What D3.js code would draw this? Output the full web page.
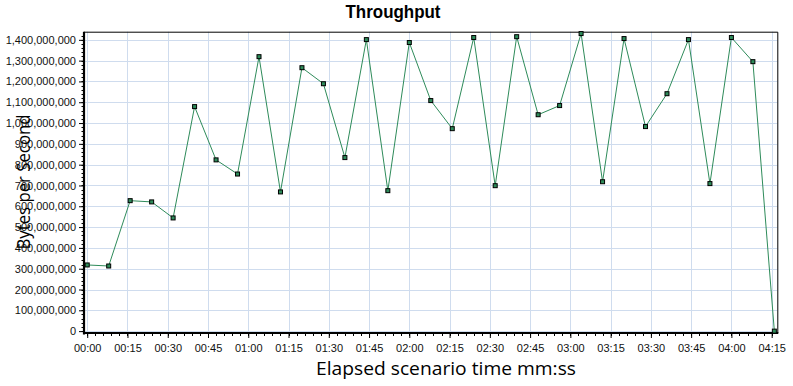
<!DOCTYPE html>
<html>
<head>
<meta charset="utf-8">
<script src="https://cdn.jsdelivr.net/npm/d3@7"></script>
<style>
  html, body { margin: 0; padding: 0; background: #fff; }
  svg { display: block; }
</style>
</head>
<body>
<svg id="chart" width="793" height="386"></svg>
<script>
// ---- data ----
const titleText = "Throughput";
const xTitle = "Elapsed scenario time mm:ss";
const yTitle = "Bytes per Second";
const elapsedSeconds = [0, 8, 16, 24, 32, 40, 48, 56, 64, 72, 80, 88, 96, 104, 112, 120,
  128, 136, 144, 152, 160, 168, 176, 184, 192, 200, 208, 216, 224, 232, 240, 248, 256];
const bytesPerSecond = [318e6, 313e6, 627e6, 621e6, 544e6, 1079e6, 823e6, 755e6, 1319e6, 669e6,
  1266e6, 1189e6, 834e6, 1401e6, 675e6, 1387e6, 1108e6, 973e6, 1411e6, 699e6,
  1415e6, 1040e6, 1084e6, 1430e6, 718e6, 1406e6, 983e6, 1141e6, 1401e6, 709e6,
  1411e6, 1295e6, 0];
const xTickSeconds = [0, 15, 30, 45, 60, 75, 90, 105, 120, 135, 150, 165, 180, 195, 210, 225, 240, 255];
const xTickLabels = ["00:00", "00:15", "00:30", "00:45", "01:00", "01:15", "01:30", "01:45", "02:00",
  "02:15", "02:30", "02:45", "03:00", "03:15", "03:30", "03:45", "04:00", "04:15"];
const yTickValues = [0, 100e6, 200e6, 300e6, 400e6, 500e6, 600e6, 700e6, 800e6, 900e6,
  1000e6, 1100e6, 1200e6, 1300e6, 1400e6];

// ---- layout ----
const L = 84, R = 777.3, T = 31.7, B = 333;
const svg = d3.select("#chart");
const x = d3.scaleLinear().domain([-1.2, 257.1]).range([L, R]);
const y = d3.scaleLinear().domain([-9e6, 1.439e9]).range([B, T]);
const lineColor = "#2e8b5a";
const gridColor = "#cfdcee";
const labelFont = "'Liberation Sans', Arial, sans-serif";
const titleFont = "'Open Sans', 'Noto Sans', sans-serif";

// grid
const g = svg.append("g");
g.selectAll("line.hg").data(yTickValues).join("line")
  .attr("x1", L).attr("x2", R)
  .attr("y1", d => Math.round(y(d)) + 0.5).attr("y2", d => Math.round(y(d)) + 0.5)
  .attr("stroke", gridColor).attr("stroke-width", 1);
g.selectAll("line.vg").data(xTickSeconds).join("line")
  .attr("y1", T).attr("y2", B)
  .attr("x1", d => Math.round(x(d)) + 0.5).attr("x2", d => Math.round(x(d)) + 0.5)
  .attr("stroke", gridColor).attr("stroke-width", 1);

// frame top/right
svg.append("path")
  .attr("d", `M${L},${T + 0.5}H${R + 0.5}V${B}`)
  .attr("fill", "none").attr("stroke", "#000").attr("stroke-width", 1);

// y axis
const yAxis = d3.axisLeft(y).tickValues(yTickValues).tickSize(5).tickPadding(3)
  .tickFormat(d3.format(","));
const ya = svg.append("g").attr("transform", `translate(${L},0)`).call(yAxis);
ya.select(".domain").remove();
ya.selectAll(".tick line").attr("stroke", "#000");
ya.selectAll(".tick text").attr("font-family", labelFont).attr("font-size", 11).attr("fill", "#111");
// minor y ticks
const yMinor = d3.range(0, 1.44e9, 20e6);
svg.append("g").selectAll("line").data(yMinor).join("line")
  .attr("x1", L - 2.5).attr("x2", L)
  .attr("y1", d => Math.round(y(d)) + 0.5).attr("y2", d => Math.round(y(d)) + 0.5)
  .attr("stroke", "#000");
svg.append("line").attr("x1", L).attr("x2", L).attr("y1", T).attr("y2", B + 1.5)
  .attr("stroke", "#000").attr("stroke-width", 2.2);

// x axis
const xAxis = d3.axisBottom(x).tickValues(xTickSeconds).tickSize(5).tickPadding(6)
  .tickFormat((d, i) => xTickLabels[i]);
const xa = svg.append("g").attr("transform", `translate(0,${B})`).call(xAxis);
xa.select(".domain").remove();
xa.selectAll(".tick line").attr("stroke", "#000");
xa.selectAll(".tick text").attr("font-family", labelFont).attr("font-size", 11).attr("fill", "#111");
const xMinor = d3.range(0, 258, 3);
svg.append("g").selectAll("line").data(xMinor).join("line")
  .attr("x1", d => Math.round(x(d)) + 0.5).attr("x2", d => Math.round(x(d)) + 0.5)
  .attr("y1", B).attr("y2", B + 3)
  .attr("stroke", "#000");
svg.append("line").attr("x1", L - 1).attr("x2", R + 1).attr("y1", B).attr("y2", B)
  .attr("stroke", "#000").attr("stroke-width", 2.2);

// series line
const pts = elapsedSeconds.map((s, i) => [s, bytesPerSecond[i]]);
svg.append("path").datum(pts)
  .attr("d", d3.line().x(d => x(d[0])).y(d => y(d[1])))
  .attr("fill", "none").attr("stroke", lineColor).attr("stroke-width", 1);
svg.append("g").selectAll("rect").data(pts).join("rect")
  .attr("x", d => x(d[0]) - 2).attr("y", d => y(d[1]) - 2)
  .attr("width", 4).attr("height", 4)
  .attr("fill", lineColor).attr("stroke", "#000").attr("stroke-width", 1);

// titles
svg.append("text").attr("x", 393).attr("y", 17.5).attr("text-anchor", "middle")
  .attr("font-family", "'Liberation Sans', Arial, sans-serif").attr("font-weight", "bold")
  .attr("font-size", 17.5).attr("textLength", 95).attr("lengthAdjust", "spacingAndGlyphs")
  .attr("fill", "#000").text(titleText);
svg.append("text").attr("x", 446).attr("y", 375).attr("text-anchor", "middle")
  .attr("font-family", titleFont).attr("font-size", 17.5)
  .attr("textLength", 260).attr("lengthAdjust", "spacingAndGlyphs")
  .attr("fill", "#000").text(xTitle);
svg.append("text").attr("transform", "translate(30,182) rotate(-90)").attr("text-anchor", "middle")
  .attr("font-family", titleFont).attr("font-size", 19)
  .attr("textLength", 135).attr("lengthAdjust", "spacingAndGlyphs")
  .attr("fill", "#000").text(yTitle);
</script>
</body>
</html>
